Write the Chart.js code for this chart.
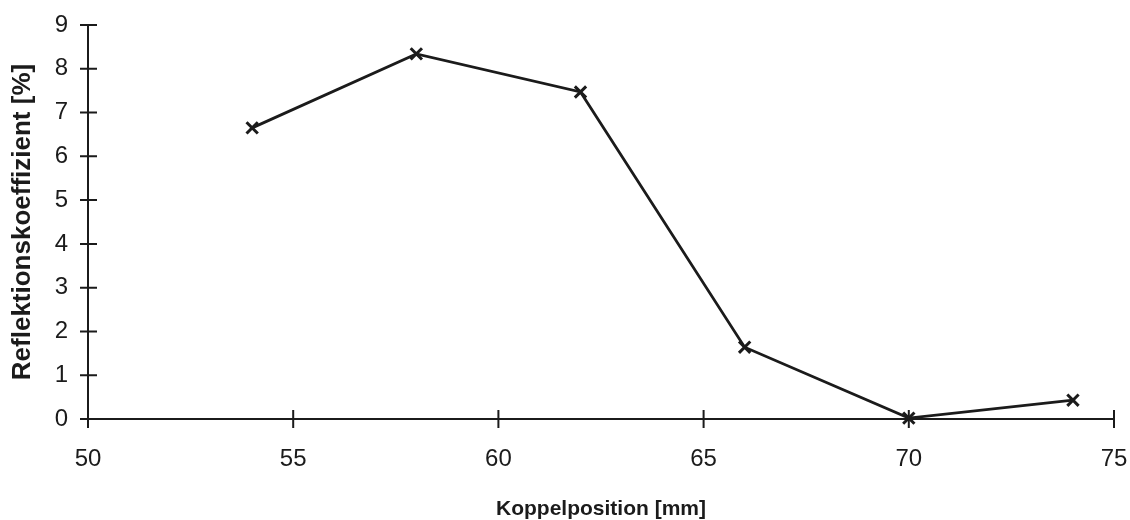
<!DOCTYPE html>
<html>
<head>
<meta charset="utf-8">
<script src="https://cdn.jsdelivr.net/npm/chart.js@4/dist/chart.umd.min.js"></script>
<style>
  html, body { margin: 0; padding: 0; background: #fff; }
  #wrap { width: 1130px; height: 520px; position: relative; }
</style>
</head>
<body>
<div id="wrap"><canvas id="chart"></canvas></div>
<script>
// Values
const positions = [54, 58, 62, 66, 70, 74]
const reflection = [6.65, 8.34, 7.47, 1.64, 0.02, 0.43]
const xTicks = [50, 55, 60, 65, 70, 75]
const yTicks = [0, 1, 2, 3, 4, 5, 6, 7, 8, 9]

const ink = '#1b1b1b'
const fontFamily = 'Liberation Sans, Arial, sans-serif'

// tick marks that cross the axis line (both sides)
const crossTicks = {
  id: 'crossTicks',
  afterDatasetsDraw(chart) {
    const { ctx, scales: { x, y } } = chart
    ctx.save()
    ctx.strokeStyle = ink
    ctx.lineWidth = 2
    ctx.beginPath()
    xTicks.forEach(v => {
      const px = x.getPixelForValue(v)
      const py = y.getPixelForValue(0)
      ctx.moveTo(px, py - 9)
      ctx.lineTo(px, py + 9)
    })
    yTicks.forEach(v => {
      const py = y.getPixelForValue(v)
      const px = x.getPixelForValue(50)
      ctx.moveTo(px - 8, py)
      ctx.lineTo(px + 9, py)
    })
    ctx.stroke()
    ctx.restore()
  }
}

// drop the extra room Chart.js keeps for overhanging labels
function noOverhang(s) {
  s.paddingLeft = 0
  s.paddingRight = 0
  s.paddingTop = 0
  s.paddingBottom = 0
}

new Chart(document.getElementById('chart'), {
  type: 'line',
  data: {
    datasets: [{
      data: positions.map((p, i) => ({ x: p, y: reflection[i] })),
      borderColor: ink,
      borderWidth: 2.8,
      pointStyle: 'crossRot',
      pointRadius: 8,
      pointBorderWidth: 3,
      pointBorderColor: ink,
      tension: 0,
      fill: false,
      clip: false
    }]
  },
  options: {
    responsive: true,
    maintainAspectRatio: false,
    animation: false,
    layout: { padding: { top: 25, right: 16, bottom: 0, left: 0 } },
    plugins: { legend: { display: false }, tooltip: { enabled: false } },
    scales: {
      x: {
        type: 'linear',
        min: 50,
        max: 75,
        afterBuildTicks: s => { s.ticks = xTicks.map(v => ({ value: v })) },
        afterFit: s => { s.height = 101; noOverhang(s) },
        grid: { drawOnChartArea: false, drawTicks: false },
        border: { display: true, color: ink, width: 2 },
        ticks: {
          color: ink,
          padding: 26,
          font: { family: fontFamily, size: 24 }
        },
        title: {
          display: true,
          text: 'Koppelposition [mm]',
          color: ink,
          padding: { top: 0, bottom: 0 },
          font: { family: fontFamily, size: 21, weight: 'bold', lineHeight: 1 }
        }
      },
      y: {
        min: 0,
        max: 9,
        afterBuildTicks: s => { s.ticks = yTicks.map(v => ({ value: v })) },
        afterFit: s => { s.width = 88; noOverhang(s) },
        grid: { drawOnChartArea: false, drawTicks: false },
        border: { display: true, color: ink, width: 2 },
        ticks: {
          color: ink,
          padding: 20,
          font: { family: fontFamily, size: 24 }
        },
        title: {
          display: true,
          text: 'Reflektionskoeffizient [%]',
          color: ink,
          padding: { top: 7, bottom: 0 },
          font: { family: fontFamily, size: 26, weight: 'bold', lineHeight: 1.2 }
        }
      }
    }
  },
  plugins: [crossTicks]
})
</script>
</body>
</html>
